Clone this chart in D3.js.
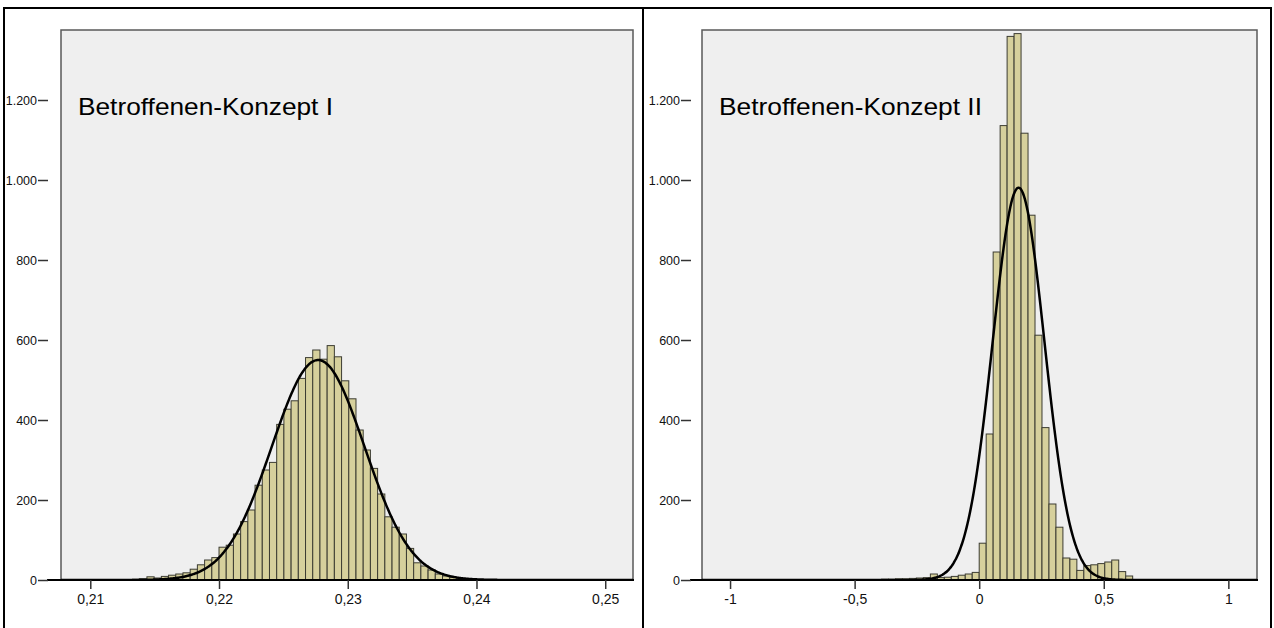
<!DOCTYPE html>
<html>
<head>
<meta charset="utf-8">
<script src="https://cdn.jsdelivr.net/npm/d3@7"></script>
<style>
body { margin: 0; background: #fff; }
svg { display: block; font-family: "Liberation Sans", Arial, sans-serif; }
</style>
</head>
<body>
<svg id="chart" width="1274" height="628"></svg>
<script>
// --- data ---
// panel 1: Betroffenen-Konzept I
var binStart1 = 0.21216, binWidth1 = 0.00056;
var counts1 = [1, 1, 2, 3, 8, 5, 9, 12, 15, 18, 27, 38, 50, 56,
  82, 87, 115, 146, 175, 237, 275, 294, 389, 427, 448, 504, 556, 575, 552, 586, 558, 498, 453, 375, 325,
  279, 215, 158, 132, 115, 79, 43, 35, 25, 15, 10, 6, 4, 2, 1, 1];
var xTicks1 = [0.21, 0.22, 0.23, 0.24, 0.25];
var fitMean1 = 0.2277, fitSd1 = 0.0036, fitPeak1 = 550;

// panel 2: Betroffenen-Konzept II
var binStart2 = -0.448, binWidth2 = 0.028;
var counts2 = [1, 1, 2, 2, 3, 3, 4, 5, 6, 15, 6, 7, 9, 12, 15, 19,
  92, 365, 820, 1136, 1359, 1366, 1117, 912, 612, 381, 190, 132, 55, 52, 24, 36, 38, 41, 45, 50, 21, 10];
var xTicks2 = [-1, -0.5, 0, 0.5, 1];
var fitMean2 = 0.158, fitSd2 = 0.104, fitPeak2 = 981;

var yTicks = [0, 200, 400, 600, 800, 1000, 1200];
var titles = ["Betroffenen-Konzept I", "Betroffenen-Konzept II"];

// german number style: 1.200 / 0,21
var de = d3.formatLocale({decimal: ",", thousands: ".", grouping: [3], currency: ["", " €"], minus: "-"});

var svg = d3.select("#chart");

// outer table frame
var frame = svg.append("g").attr("stroke", "#000").attr("stroke-width", 2);
frame.append("line").attr("x1", 3).attr("x2", 1272).attr("y1", 8).attr("y2", 8);
[4, 643, 1271].forEach(function(x) {
  frame.append("line").attr("x1", x).attr("x2", x).attr("y1", 8).attr("y2", 628);
});

var y = d3.scaleLinear().domain([0, 1375]).range([580, 30]);

function drawPanel(p) {
  var x = d3.scaleLinear().domain(p.domain).range([p.left, p.right]);
  var g = svg.append("g");

  g.append("rect")
    .attr("x", p.left).attr("y", 30)
    .attr("width", p.right - p.left).attr("height", 550)
    .attr("fill", "#efefef").attr("stroke", "#5a5a5a").attr("stroke-width", 1.5);

  var clipId = "clip" + p.id;
  g.append("clipPath").attr("id", clipId).append("rect")
    .attr("x", p.left).attr("y", 30).attr("width", p.right - p.left).attr("height", 550);

  // histogram bars
  g.append("g").selectAll("rect")
    .data(p.counts)
    .join("rect")
    .attr("x", function(d, i) { return x(p.start + i * p.width); })
    .attr("width", function(d, i) { return x(p.start + (i + 1) * p.width) - x(p.start + i * p.width); })
    .attr("y", function(d) { return y(d); })
    .attr("height", function(d) { return 580 - y(d); })
    .attr("fill", "#d6d09c")
    .attr("stroke", "#3c3c32")
    .attr("stroke-width", 1);

  // fitted normal curve
  var xs = d3.range(0, 601).map(function(i) {
    return p.domain[0] + (p.domain[1] - p.domain[0]) * i / 600;
  });
  var line = d3.line()
    .x(function(v) { return x(v); })
    .y(function(v) { return y(p.peak * Math.exp(-Math.pow(v - p.mean, 2) / (2 * p.sd * p.sd))); })
    .curve(d3.curveBasis);
  g.append("path")
    .datum(xs)
    .attr("clip-path", "url(#" + clipId + ")")
    .attr("d", line)
    .attr("fill", "none")
    .attr("stroke", "#000")
    .attr("stroke-width", 2.5);

  // baseline, continues left to the y axis
  g.append("line")
    .attr("x1", p.axisX - 1).attr("x2", p.right + 1)
    .attr("y1", 580).attr("y2", 580)
    .attr("stroke", "#000").attr("stroke-width", 2);

  // y axis
  var yAxis = d3.axisLeft(y).tickValues(yTicks).tickSize(10).tickPadding(1)
    .tickFormat(de.format(",.0f"));
  var ya = g.append("g").attr("transform", "translate(" + p.axisX + ",0)").call(yAxis);
  ya.select(".domain").remove();
  ya.selectAll("line").attr("stroke", "#333").attr("stroke-width", 1.5);
  ya.selectAll("text").attr("font-size", 12.5).attr("fill", "#111")
    .attr("font-family", "'Liberation Sans', Arial, sans-serif");

  // x axis
  var xAxis = d3.axisBottom(x).tickValues(p.ticks).tickSize(9).tickPadding(5)
    .tickFormat(p.fmt);
  var xa = g.append("g").attr("transform", "translate(0,580)").call(xAxis);
  xa.select(".domain").remove();
  xa.selectAll("line").attr("stroke", "#333").attr("stroke-width", 1.5);
  xa.selectAll("text").attr("font-size", 14).attr("fill", "#111")
    .attr("font-family", "'Liberation Sans', Arial, sans-serif");

  g.append("text")
    .attr("x", p.titleX).attr("y", 115)
    .attr("font-size", 24)
    .attr("textLength", p.titleLen)
    .attr("lengthAdjust", "spacingAndGlyphs")
    .attr("fill", "#000")
    .text(p.title);
}

drawPanel({
  id: 1, left: 61, right: 633, axisX: 48,
  domain: [0.207725, 0.252158],
  start: binStart1, width: binWidth1, counts: counts1,
  mean: fitMean1, sd: fitSd1, peak: fitPeak1,
  ticks: xTicks1, fmt: de.format(".2f"),
  title: titles[0], titleX: 78, titleLen: 255
});

drawPanel({
  id: 2, left: 702, right: 1257, axisX: 691,
  domain: [-1.1126, 1.1150],
  start: binStart2, width: binWidth2, counts: counts2,
  mean: fitMean2, sd: fitSd2, peak: fitPeak2,
  ticks: xTicks2, fmt: de.format("~g"),
  title: titles[1], titleX: 719, titleLen: 263
});
</script>
</body>
</html>
